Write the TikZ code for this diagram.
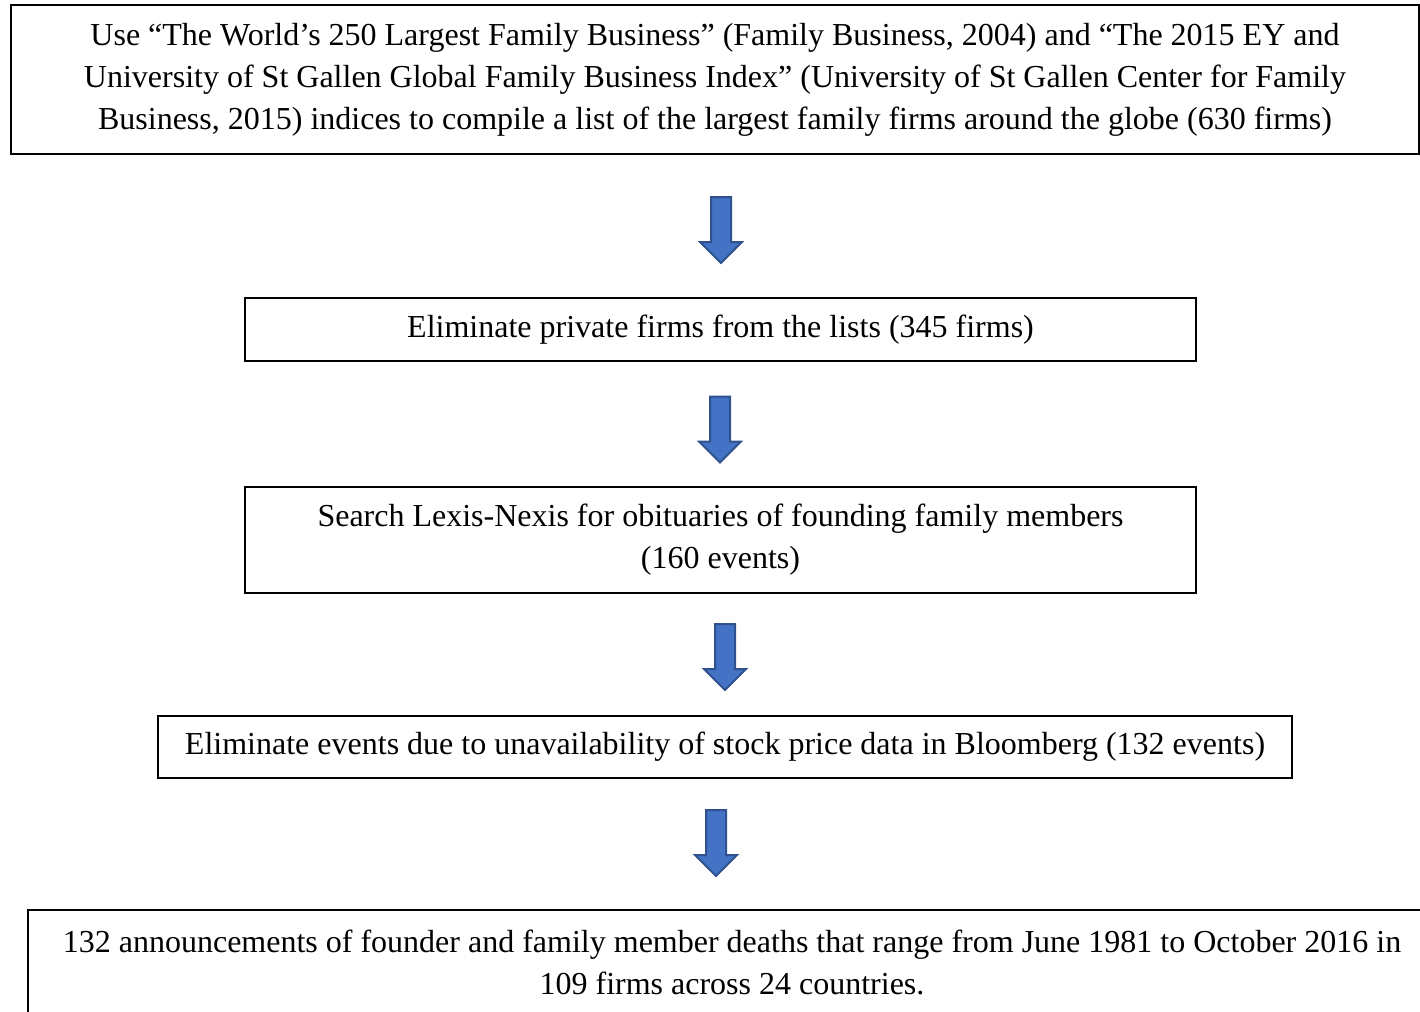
\documentclass[tikz,border=0pt]{standalone}
\usepackage{fontspec}
\setmainfont{Liberation Serif}
\usetikzlibrary{shapes.arrows}
\definecolor{arrowfill}{HTML}{4472C4}
\definecolor{arrowedge}{HTML}{2F528F}
\begin{document}
\begin{tikzpicture}[x=1pt,y=-1pt,
  every node/.style={font=\fontsize{32}{42}\selectfont},
  stepbox/.style={draw=black,line width=2pt,inner sep=0pt,align=center},
  downarrow/.style={single arrow,draw=arrowedge,fill=arrowfill,line width=2pt,
    rotate=-90,minimum height=66pt,inner sep=9pt,
    single arrow head extend=11pt,single arrow tip angle=90,anchor=center}]
\useasboundingbox (0,0) rectangle (1420,1011);
\begin{scope}
\clip (0,0) rectangle (1420,1011);
% process boxes
\node[stepbox,minimum width=1408pt,minimum height=149pt] (src) at (715,79.5)
  {Use “The World’s 250 Largest Family Business” (Family Business, 2004) and “The 2015 EY and\\
   University of St Gallen Global Family Business Index” (University of St Gallen Center for Family\\
   Business, 2015) indices to compile a list of the largest family firms around the globe (630 firms)};
\node[stepbox,minimum width=951pt,minimum height=63pt] (pub) at (720.5,329.5)
  {Eliminate private firms from the lists (345 firms)};
\node[stepbox,minimum width=951pt,minimum height=106pt] (obit) at (720.5,540)
  {Search Lexis-Nexis for obituaries of founding family members\\(160 events)};
\node[stepbox,minimum width=1134pt,minimum height=62pt] (price) at (725,747)
  {Eliminate events due to unavailability of stock price data in Bloomberg (132 events)};
\node[stepbox,minimum width=1408pt,minimum height=104pt] (final) at (732,962)
  {132 announcements of founder and family member deaths that range from June 1981 to October 2016 in\\
   109 firms across 24 countries.};
% block arrows between the steps
\node[downarrow] (a1) at (721,225) {};
\node[downarrow] (a2) at (720,424.5) {};
\node[downarrow] (a3) at (725,652) {};
\node[downarrow] (a4) at (716,838) {};
\end{scope}
\end{tikzpicture}
\end{document}
